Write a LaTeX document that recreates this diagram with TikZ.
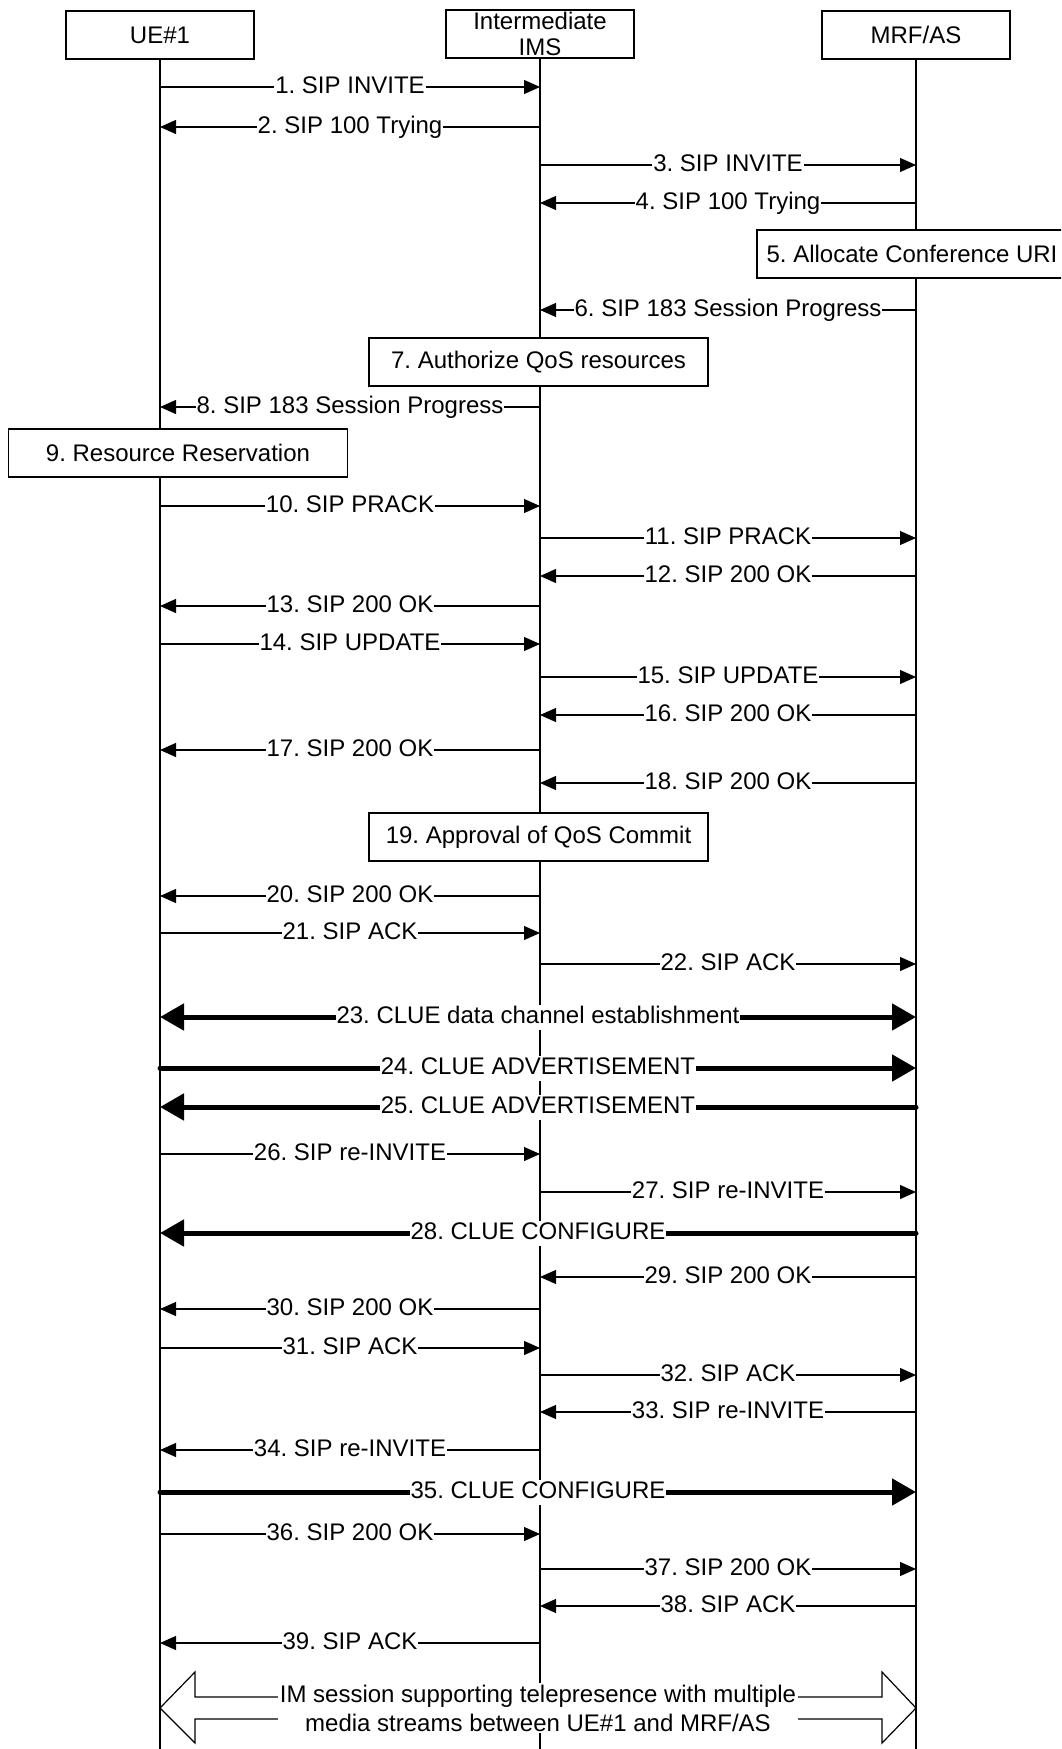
\documentclass[tikz,border=0pt]{standalone}
\usepackage{fontspec}
\setmainfont{Liberation Sans}
\usepackage{tikz}
\usetikzlibrary{arrows.meta}
\frenchspacing

\begin{document}
\begin{tikzpicture}[x=0.5pt,y=-0.5pt,
  every node/.style={font=\fontsize{12}{14.5}\selectfont},
  party/.style={draw,line width=0.7pt,fill=white,minimum width=94pt,minimum height=24pt,inner sep=0pt,align=center},
  actbox/.style={draw,line width=0.7pt,fill=white,minimum width=169.5pt,minimum height=24pt,inner sep=0pt},
  msg/.style={line width=0.6pt,-{Triangle[length=8pt,width=7pt]}},
  bigmsg/.style={line width=2.5pt,line cap=round},
  lbl/.style={fill=white,inner xsep=0.5pt,inner ysep=0.5pt,text height=9pt,text depth=2.5pt}]
\useasboundingbox (0,0) rectangle (1061,1749);
\clip (0,0) rectangle (1061,1749);
% participants
\node[party] (ue) at (160,35) {UE\#1};
\node[party,font=\fontsize{12}{13}\selectfont] (ims) at (540,34) {Intermediate\\IMS};
\node[party] (mrf) at (916,35) {MRF/AS};
\foreach \p in {ue,ims,mrf} \draw[line width=0.6pt] (\p.south) -- (\p.south |- 0,1760);
% thin messages
\foreach \y/\a/\b/\t in {87/ue/ims/1. SIP INVITE, 127/ims/ue/2. SIP 100 Trying,
  165/ims/mrf/3. SIP INVITE, 203/mrf/ims/4. SIP 100 Trying,
  310/mrf/ims/6. SIP 183 Session Progress, 407/ims/ue/8. SIP 183 Session Progress,
  506/ue/ims/10. SIP PRACK, 538/ims/mrf/11. SIP PRACK, 576/mrf/ims/12. SIP 200 OK,
  606/ims/ue/13. SIP 200 OK, 644/ue/ims/14. SIP UPDATE, 677/ims/mrf/15. SIP UPDATE,
  715/mrf/ims/16. SIP 200 OK, 750/ims/ue/17. SIP 200 OK, 783/mrf/ims/18. SIP 200 OK,
  896/ims/ue/20. SIP 200 OK, 933/ue/ims/21. SIP ACK, 964/ims/mrf/22. SIP ACK,
  1154/ue/ims/26. SIP re-INVITE, 1192/ims/mrf/27. SIP re-INVITE,
  1277/mrf/ims/29. SIP 200 OK, 1309/ims/ue/30. SIP 200 OK, 1348/ue/ims/31. SIP ACK,
  1375/ims/mrf/32. SIP ACK, 1412/mrf/ims/33. SIP re-INVITE, 1450/ims/ue/34. SIP re-INVITE,
  1534/ue/ims/36. SIP 200 OK, 1569/ims/mrf/37. SIP 200 OK, 1606/mrf/ims/38. SIP ACK,
  1643/ims/ue/39. SIP ACK}
  \draw[msg] (\a |- 0,\y) -- node[lbl]{\t} (\b |- 0,\y);
% CLUE messages
\draw[bigmsg,{Triangle[length=12pt,width=13pt]}-{Triangle[length=12pt,width=13pt]}] (ue |- 0,1017) -- node[lbl]{23. CLUE data channel establishment} (mrf |- 0,1017);
\draw[bigmsg,-{Triangle[length=12pt,width=13pt]}] (ue |- 0,1068) -- node[lbl]{24. CLUE ADVERTISEMENT} (mrf |- 0,1068);
\draw[bigmsg,{Triangle[length=12pt,width=13pt]}-] (ue |- 0,1107) -- node[lbl]{25. CLUE ADVERTISEMENT} (mrf |- 0,1107);
\draw[bigmsg,{Triangle[length=12pt,width=13pt]}-] (ue |- 0,1233) -- node[lbl]{28. CLUE CONFIGURE} (mrf |- 0,1233);
\draw[bigmsg,-{Triangle[length=12pt,width=13pt]}] (ue |- 0,1492) -- node[lbl]{35. CLUE CONFIGURE} (mrf |- 0,1492);
% actions
\node[actbox,minimum width=155pt] (alloc) at (912,254) {5. Allocate Conference URI};
\node[actbox] (authq) at (538.5,362) {7. Authorize QoS resources};
\node[actbox] (resv) at (178,453) {9. Resource Reservation};
\node[actbox] (commit) at (538.5,837) {19. Approval of QoS Commit};
% session arrow
\draw[line width=0.6pt] (ue |- 0,1708) -- (195,1672) -- (195,1697) -- (882,1697) -- (882,1672)
  -- (mrf |- 0,1708) -- (882,1743) -- (882,1719) -- (195,1719) -- (195,1743) -- cycle;
\node[fill=white,align=center,inner xsep=1pt,inner ysep=1pt] (sess) at (538,1708)
  {IM session supporting telepresence with multiple\\media streams between UE\#1 and MRF/AS};
\end{tikzpicture}
\end{document}
